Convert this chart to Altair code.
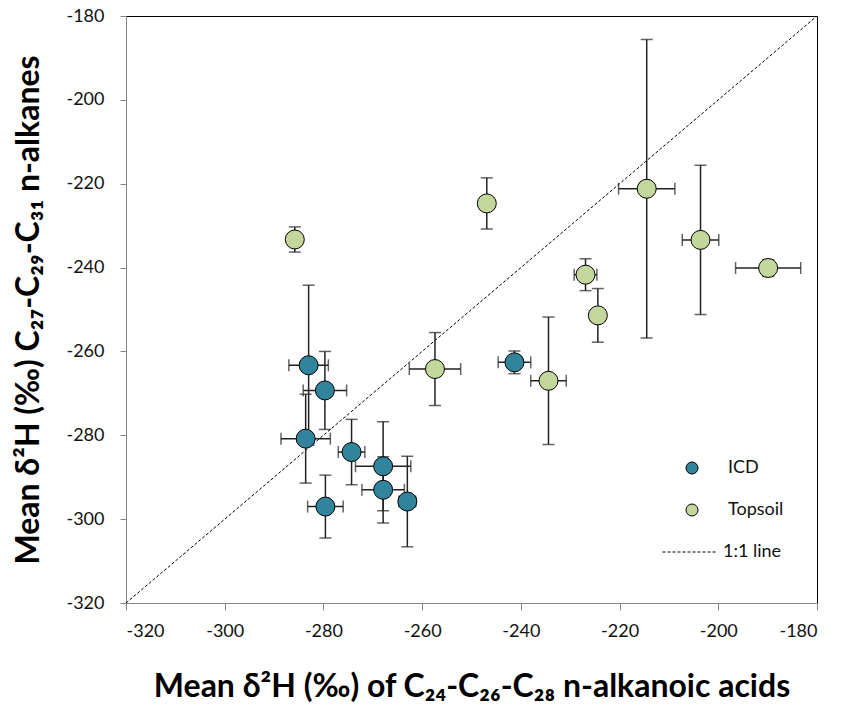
import altair as alt
import pandas as pd

# ICD samples
icd_x = [-283.0, -279.7, -283.6, -274.3, -279.6, -267.9, -267.9, -263.0, -241.3]
icd_y = [-263.3, -269.3, -280.8, -284.0, -297.0, -287.4, -293.0, -295.8, -262.6]
icd_xerr = [4.0, 4.4, 5.0, 2.7, 3.6, 5.6, 4.3, 1.7, 3.3]
icd_yerr = [19.1, 9.3, 10.6, 7.8, 7.5, 10.6, 7.9, 10.8, 2.7]

# Topsoil samples
top_x = [-285.8, -246.9, -257.4, -234.4, -226.9, -224.4, -214.5, -203.6, -189.9]
top_y = [-233.3, -224.7, -264.2, -267.0, -241.7, -251.4, -221.2, -233.4, -240.1]
top_xerr = [0.5, 0.5, 5.2, 3.6, 2.3, 1.5, 5.7, 3.7, 6.6]
top_yerr = [3.0, 6.1, 8.7, 15.2, 3.8, 6.4, 35.6, 17.8, 2.0]

series = ["ICD", "Topsoil"]
colors = ["#31849B", "#C3D69B"]
line_x = [-320, -180]
line_y = [-320, -180]
ticks = [-320, -300, -280, -260, -240, -220, -200, -180]

rows = []
for name, xs, ys, xe, ye in [("ICD", icd_x, icd_y, icd_xerr, icd_yerr),
                             ("Topsoil", top_x, top_y, top_xerr, top_yerr)]:
    for a, b, c, d in zip(xs, ys, xe, ye):
        rows.append({"series": name, "x": a, "y": b, "xerr": c, "yerr": d})
df = pd.DataFrame(rows)
line_df = pd.DataFrame({"x": line_x, "y": line_y, "label": ["1:1 line"] * 2})

FONT = "Lato"
xscale = alt.Scale(domain=[-320, -180], nice=False, zero=False)
yscale = alt.Scale(domain=[-320, -180], nice=False, zero=False)
lab_expr = "replace(datum.label, '\u2212', '-')"

xaxis = alt.Axis(values=ticks, title="Mean \u03b4\u00b2H (\u2030) of C\u2082\u2084-C\u2082\u2086-C\u2082\u2088 n-alkanoic acids",
                 grid=False, labelExpr=lab_expr, tickSize=7, labelPadding=12, titlePadding=31)
yaxis = alt.Axis(values=ticks, title="Mean \u03b4\u00b2H (\u2030) C\u2082\u2087-C\u2082\u2089-C\u2083\u2081 n-alkanes",
                 grid=False, labelExpr=lab_expr, tickSize=6, labelPadding=16, titlePadding=20)

base = alt.Chart(df).transform_calculate(
    xlo="datum.x - datum.xerr", xhi="datum.x + datum.xerr",
    ylo="datum.y - datum.yerr", yhi="datum.y + datum.yerr")

ERR = "#222222"

diag = alt.Chart(line_df).mark_line(color="black", strokeWidth=1).encode(
    x=alt.X("x:Q", scale=xscale, axis=xaxis),
    y=alt.Y("y:Q", scale=yscale, axis=yaxis),
    strokeDash=alt.StrokeDash("label:N", scale=alt.Scale(domain=["1:1 line"], range=[[3, 2]]),
                              legend=alt.Legend(title=None, orient="none", legendX=536, legendY=508,
                                                symbolType="stroke", symbolSize=3025,
                                                symbolStrokeColor="black", symbolStrokeWidth=1,
                                                labelFontSize=18, labelFont=FONT, labelOffset=5,
                                                labelColor="#111111", padding=0)))

vbar = base.mark_rule(color=ERR, strokeWidth=1.5).encode(
    x=alt.X("x:Q", scale=xscale), y=alt.Y("ylo:Q", scale=yscale), y2="yhi:Q")
hbar = base.mark_rule(color=ERR, strokeWidth=1.5).encode(
    y=alt.Y("y:Q", scale=yscale), x=alt.X("xlo:Q", scale=xscale), x2="xhi:Q")
cap_ylo = base.mark_tick(orient="horizontal", size=12, thickness=1.5, color=ERR).encode(
    x=alt.X("x:Q", scale=xscale), y=alt.Y("ylo:Q", scale=yscale))
cap_yhi = base.mark_tick(orient="horizontal", size=12, thickness=1.5, color=ERR).encode(
    x=alt.X("x:Q", scale=xscale), y=alt.Y("yhi:Q", scale=yscale))
cap_xlo = base.mark_tick(orient="vertical", size=12, thickness=1.5, color=ERR).encode(
    x=alt.X("xlo:Q", scale=xscale), y=alt.Y("y:Q", scale=yscale))
cap_xhi = base.mark_tick(orient="vertical", size=12, thickness=1.5, color=ERR).encode(
    x=alt.X("xhi:Q", scale=xscale), y=alt.Y("y:Q", scale=yscale))

pts = alt.Chart(df).mark_point(filled=True, shape="circle", size=361, stroke="black",
                               strokeWidth=1, opacity=1).encode(
    x=alt.X("x:Q", scale=xscale),
    y=alt.Y("y:Q", scale=yscale),
    fill=alt.Fill("series:N", scale=alt.Scale(domain=series, range=colors),
                  legend=alt.Legend(title=None, orient="none", legendX=557, legendY=443,
                                    symbolType="circle", symbolSize=144,
                                    symbolStrokeColor="black", symbolStrokeWidth=1,
                                    symbolOpacity=1, labelFontSize=18, labelFont=FONT,
                                    labelOffset=27, rowPadding=24, labelColor="#111111",
                                    padding=0)))

chart = alt.layer(diag, vbar, hbar, cap_ylo, cap_yhi, cap_xlo, cap_xhi, pts).resolve_legend(
    fill="independent", strokeDash="independent"
).properties(
    width=691, height=587,
    autosize=alt.AutoSizeParams(type="none"),
    padding={"left": 118, "top": 8, "right": 20, "bottom": 108},
).configure_view(
    stroke="black", strokeWidth=1
).configure_axis(
    domainColor="#868686", tickColor="#868686", domainWidth=1, tickWidth=1,
    labelFont=FONT, labelFontSize=18, labelColor="#111111",
    titleFont=FONT, titleFontSize=32, titleFontWeight="bold", titleColor="black",
)

chart.save("out.html", embed_options={"renderer": "svg", "actions": False})
